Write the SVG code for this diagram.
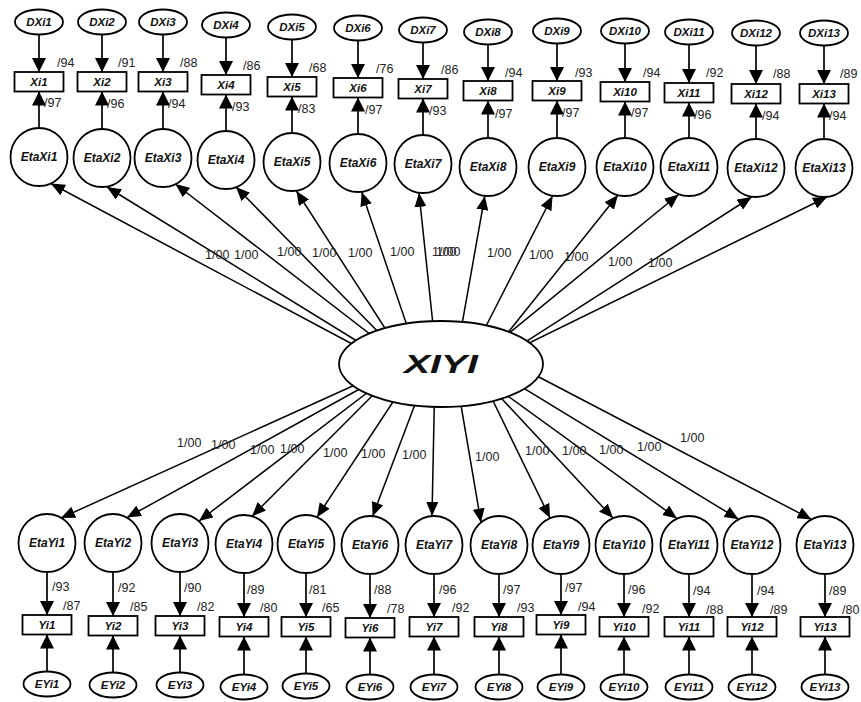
<svg xmlns="http://www.w3.org/2000/svg" width="861" height="702" viewBox="0 0 861 702">
  <defs>
    <marker id="arrow" markerUnits="userSpaceOnUse" markerWidth="14" markerHeight="12" refX="14" refY="6" orient="auto" viewBox="0 0 14 12">
      <path d="M0,0 L14,6 L0,12 z" fill="#000"/>
    </marker>
    <marker id="arrowV" markerUnits="userSpaceOnUse" markerWidth="14" markerHeight="14" refX="14" refY="7" orient="auto" viewBox="0 0 14 14">
      <path d="M0,0 L14,7 L0,14 z" fill="#000"/>
    </marker>
  </defs>
  <style>
    .n { fill: #fff; stroke: #000; stroke-width: 1.8; }
    .t { font-family: "Liberation Sans", Arial, sans-serif; font-style: italic; font-weight: bold; font-size: 11.5px; text-anchor: middle; fill: #111; }
    .te { font-size: 12px; }
    .big { font-size: 26px; }
    .c line { stroke: #000; stroke-width: 1.5; marker-end: url(#arrow); }
    .c line.v { stroke-width: 1.7; marker-end: url(#arrowV); }
    .w { font-family: "Liberation Sans", Arial, sans-serif; font-size: 12.5px; fill: #222; }
  </style>
  <rect width="861" height="702" fill="#fff"/>

  <!-- Exogenous indicators: error, observed Xi, latent EtaXi -->
  <g id="DXi1"><ellipse class="n" cx="39" cy="22" rx="24" ry="12.5"/><text class="t" x="39" y="26">DXi1</text></g>
  <g id="DXi2"><ellipse class="n" cx="102" cy="22" rx="24" ry="12.5"/><text class="t" x="102" y="26">DXi2</text></g>
  <g id="DXi3"><ellipse class="n" cx="163" cy="22" rx="24" ry="12.5"/><text class="t" x="163" y="26">DXi3</text></g>
  <g id="DXi4"><ellipse class="n" cx="226" cy="25" rx="24" ry="12.5"/><text class="t" x="226" y="29">DXi4</text></g>
  <g id="DXi5"><ellipse class="n" cx="292" cy="27" rx="24" ry="12.5"/><text class="t" x="292" y="31">DXi5</text></g>
  <g id="DXi6"><ellipse class="n" cx="358" cy="28" rx="24" ry="12.5"/><text class="t" x="358" y="32">DXi6</text></g>
  <g id="DXi7"><ellipse class="n" cx="423" cy="30" rx="24" ry="12.5"/><text class="t" x="423" y="34">DXi7</text></g>
  <g id="DXi8"><ellipse class="n" cx="488" cy="32" rx="24" ry="12.5"/><text class="t" x="488" y="36">DXi8</text></g>
  <g id="DXi9"><ellipse class="n" cx="557" cy="31" rx="24" ry="12.5"/><text class="t" x="557" y="35">DXi9</text></g>
  <g id="DXi10"><ellipse class="n" cx="625" cy="31" rx="24" ry="12.5"/><text class="t" x="625" y="35">DXi10</text></g>
  <g id="DXi11"><ellipse class="n" cx="689" cy="32" rx="24" ry="12.5"/><text class="t" x="689" y="36">DXi11</text></g>
  <g id="DXi12"><ellipse class="n" cx="756" cy="33" rx="24" ry="12.5"/><text class="t" x="756" y="37">DXi12</text></g>
  <g id="DXi13"><ellipse class="n" cx="824" cy="33" rx="24" ry="12.5"/><text class="t" x="824" y="37">DXi13</text></g>

  <g id="Xi1"><rect class="n" x="14.5" y="72" width="49" height="19.5"/><text class="t" x="39" y="85.5">Xi1</text></g>
  <g id="Xi2"><rect class="n" x="77.5" y="72" width="49" height="19.5"/><text class="t" x="102" y="85.5">Xi2</text></g>
  <g id="Xi3"><rect class="n" x="138.5" y="72" width="49" height="19.5"/><text class="t" x="163" y="85.5">Xi3</text></g>
  <g id="Xi4"><rect class="n" x="201.5" y="75" width="49" height="19.5"/><text class="t" x="226" y="88.5">Xi4</text></g>
  <g id="Xi5"><rect class="n" x="267.5" y="77" width="49" height="19.5"/><text class="t" x="292" y="90.5">Xi5</text></g>
  <g id="Xi6"><rect class="n" x="333.5" y="78" width="49" height="19.5"/><text class="t" x="358" y="91.5">Xi6</text></g>
  <g id="Xi7"><rect class="n" x="398.5" y="79" width="49" height="19.5"/><text class="t" x="423" y="92.5">Xi7</text></g>
  <g id="Xi8"><rect class="n" x="463.5" y="81" width="49" height="19.5"/><text class="t" x="488" y="94.5">Xi8</text></g>
  <g id="Xi9"><rect class="n" x="532.5" y="81" width="49" height="19.5"/><text class="t" x="557" y="94.5">Xi9</text></g>
  <g id="Xi10"><rect class="n" x="600.5" y="82" width="49" height="19.5"/><text class="t" x="625" y="95.5">Xi10</text></g>
  <g id="Xi11"><rect class="n" x="664.5" y="83" width="49" height="19.5"/><text class="t" x="689" y="96.5">Xi11</text></g>
  <g id="Xi12"><rect class="n" x="731.5" y="84" width="49" height="19.5"/><text class="t" x="756" y="97.5">Xi12</text></g>
  <g id="Xi13"><rect class="n" x="799.5" y="84" width="49" height="19.5"/><text class="t" x="824" y="97.5">Xi13</text></g>

  <g id="EtaXi1"><ellipse class="n" cx="39" cy="157" rx="28.5" ry="29"/><text class="t te" x="39" y="161">EtaXi1</text></g>
  <g id="EtaXi2"><ellipse class="n" cx="102" cy="158" rx="28.5" ry="29"/><text class="t te" x="102" y="162">EtaXi2</text></g>
  <g id="EtaXi3"><ellipse class="n" cx="163" cy="158" rx="28.5" ry="29"/><text class="t te" x="163" y="162">EtaXi3</text></g>
  <g id="EtaXi4"><ellipse class="n" cx="226" cy="160" rx="28.5" ry="29"/><text class="t te" x="226" y="164">EtaXi4</text></g>
  <g id="EtaXi5"><ellipse class="n" cx="292" cy="162" rx="28.5" ry="29"/><text class="t te" x="292" y="166">EtaXi5</text></g>
  <g id="EtaXi6"><ellipse class="n" cx="358" cy="163" rx="28.5" ry="29"/><text class="t te" x="358" y="167">EtaXi6</text></g>
  <g id="EtaXi7"><ellipse class="n" cx="423" cy="164" rx="28.5" ry="29"/><text class="t te" x="423" y="168">EtaXi7</text></g>
  <g id="EtaXi8"><ellipse class="n" cx="488" cy="167" rx="28.5" ry="29"/><text class="t te" x="488" y="171">EtaXi8</text></g>
  <g id="EtaXi9"><ellipse class="n" cx="557" cy="167" rx="28.5" ry="29"/><text class="t te" x="557" y="171">EtaXi9</text></g>
  <g id="EtaXi10"><ellipse class="n" cx="625" cy="167" rx="28.5" ry="29"/><text class="t te" x="625" y="171">EtaXi10</text></g>
  <g id="EtaXi11"><ellipse class="n" cx="689" cy="167" rx="28.5" ry="29"/><text class="t te" x="689" y="171">EtaXi11</text></g>
  <g id="EtaXi12"><ellipse class="n" cx="756" cy="168" rx="28.5" ry="29"/><text class="t te" x="756" y="172">EtaXi12</text></g>
  <g id="EtaXi13"><ellipse class="n" cx="824" cy="168" rx="28.5" ry="29"/><text class="t te" x="824" y="172">EtaXi13</text></g>

  <!-- Endogenous indicators: latent EtaYi, observed Yi, error EYi -->
  <g id="EtaYi1"><ellipse class="n" cx="47" cy="543" rx="28.5" ry="29"/><text class="t te" x="47" y="547">EtaYi1</text></g>
  <g id="EtaYi2"><ellipse class="n" cx="113" cy="543" rx="28.5" ry="29"/><text class="t te" x="113" y="547">EtaYi2</text></g>
  <g id="EtaYi3"><ellipse class="n" cx="180" cy="543" rx="28.5" ry="29"/><text class="t te" x="180" y="547">EtaYi3</text></g>
  <g id="EtaYi4"><ellipse class="n" cx="244" cy="544" rx="28.5" ry="29"/><text class="t te" x="244" y="548">EtaYi4</text></g>
  <g id="EtaYi5"><ellipse class="n" cx="306" cy="544" rx="28.5" ry="29"/><text class="t te" x="306" y="548">EtaYi5</text></g>
  <g id="EtaYi6"><ellipse class="n" cx="370" cy="545" rx="28.5" ry="29"/><text class="t te" x="370" y="549">EtaYi6</text></g>
  <g id="EtaYi7"><ellipse class="n" cx="434" cy="545" rx="28.5" ry="29"/><text class="t te" x="434" y="549">EtaYi7</text></g>
  <g id="EtaYi8"><ellipse class="n" cx="499" cy="545" rx="28.5" ry="29"/><text class="t te" x="499" y="549">EtaYi8</text></g>
  <g id="EtaYi9"><ellipse class="n" cx="561" cy="545" rx="28.5" ry="29"/><text class="t te" x="561" y="549">EtaYi9</text></g>
  <g id="EtaYi10"><ellipse class="n" cx="624" cy="545" rx="28.5" ry="29"/><text class="t te" x="624" y="549">EtaYi10</text></g>
  <g id="EtaYi11"><ellipse class="n" cx="689" cy="545" rx="28.5" ry="29"/><text class="t te" x="689" y="549">EtaYi11</text></g>
  <g id="EtaYi12"><ellipse class="n" cx="752" cy="545" rx="28.5" ry="29"/><text class="t te" x="752" y="549">EtaYi12</text></g>
  <g id="EtaYi13"><ellipse class="n" cx="825" cy="545" rx="28.5" ry="29"/><text class="t te" x="825" y="549">EtaYi13</text></g>

  <g id="Yi1"><rect class="n" x="22.5" y="615" width="49" height="19.5"/><text class="t" x="47" y="628.5">Yi1</text></g>
  <g id="Yi2"><rect class="n" x="88.5" y="616" width="49" height="19.5"/><text class="t" x="113" y="629.5">Yi2</text></g>
  <g id="Yi3"><rect class="n" x="155.5" y="616" width="49" height="19.5"/><text class="t" x="180" y="629.5">Yi3</text></g>
  <g id="Yi4"><rect class="n" x="219.5" y="617" width="49" height="19.5"/><text class="t" x="244" y="630.5">Yi4</text></g>
  <g id="Yi5"><rect class="n" x="281.5" y="617" width="49" height="19.5"/><text class="t" x="306" y="630.5">Yi5</text></g>
  <g id="Yi6"><rect class="n" x="345.5" y="618" width="49" height="19.5"/><text class="t" x="370" y="631.5">Yi6</text></g>
  <g id="Yi7"><rect class="n" x="409.5" y="617" width="49" height="19.5"/><text class="t" x="434" y="630.5">Yi7</text></g>
  <g id="Yi8"><rect class="n" x="474.5" y="617" width="49" height="19.5"/><text class="t" x="499" y="630.5">Yi8</text></g>
  <g id="Yi9"><rect class="n" x="536.5" y="615" width="49" height="19.5"/><text class="t" x="561" y="628.5">Yi9</text></g>
  <g id="Yi10"><rect class="n" x="599.5" y="617" width="49" height="19.5"/><text class="t" x="624" y="630.5">Yi10</text></g>
  <g id="Yi11"><rect class="n" x="664.5" y="617" width="49" height="19.5"/><text class="t" x="689" y="630.5">Yi11</text></g>
  <g id="Yi12"><rect class="n" x="727.5" y="617" width="49" height="19.5"/><text class="t" x="752" y="630.5">Yi12</text></g>
  <g id="Yi13"><rect class="n" x="800.5" y="617" width="49" height="19.5"/><text class="t" x="825" y="630.5">Yi13</text></g>

  <g id="EYi1"><ellipse class="n" cx="47" cy="684" rx="23.5" ry="12.5"/><text class="t" x="47" y="688">EYi1</text></g>
  <g id="EYi2"><ellipse class="n" cx="113" cy="685" rx="23.5" ry="12.5"/><text class="t" x="113" y="689">EYi2</text></g>
  <g id="EYi3"><ellipse class="n" cx="180" cy="685" rx="23.5" ry="12.5"/><text class="t" x="180" y="689">EYi3</text></g>
  <g id="EYi4"><ellipse class="n" cx="244" cy="687" rx="23.5" ry="12.5"/><text class="t" x="244" y="691">EYi4</text></g>
  <g id="EYi5"><ellipse class="n" cx="306" cy="686" rx="23.5" ry="12.5"/><text class="t" x="306" y="690">EYi5</text></g>
  <g id="EYi6"><ellipse class="n" cx="370" cy="687" rx="23.5" ry="12.5"/><text class="t" x="370" y="691">EYi6</text></g>
  <g id="EYi7"><ellipse class="n" cx="434" cy="687" rx="23.5" ry="12.5"/><text class="t" x="434" y="691">EYi7</text></g>
  <g id="EYi8"><ellipse class="n" cx="499" cy="687" rx="23.5" ry="12.5"/><text class="t" x="499" y="691">EYi8</text></g>
  <g id="EYi9"><ellipse class="n" cx="561" cy="687" rx="23.5" ry="12.5"/><text class="t" x="561" y="691">EYi9</text></g>
  <g id="EYi10"><ellipse class="n" cx="624" cy="687" rx="23.5" ry="12.5"/><text class="t" x="624" y="691">EYi10</text></g>
  <g id="EYi11"><ellipse class="n" cx="689" cy="687" rx="23.5" ry="12.5"/><text class="t" x="689" y="691">EYi11</text></g>
  <g id="EYi12"><ellipse class="n" cx="752" cy="687" rx="23.5" ry="12.5"/><text class="t" x="752" y="691">EYi12</text></g>
  <g id="EYi13"><ellipse class="n" cx="825" cy="687" rx="23.5" ry="12.5"/><text class="t" x="825" y="691">EYi13</text></g>

  <!-- Paths: starts inside XIYI are hidden by its filled ellipse drawn afterwards -->
  <g id="connectors" class="c">
    <!-- DXi -> Xi -->
    <line class="v" x1="39" y1="34.5" x2="39" y2="72"/>
    <line class="v" x1="102" y1="34.5" x2="102" y2="72"/>
    <line class="v" x1="163" y1="34.5" x2="163" y2="72"/>
    <line class="v" x1="226" y1="37.5" x2="226" y2="75"/>
    <line class="v" x1="292" y1="39.5" x2="292" y2="77"/>
    <line class="v" x1="358" y1="40.5" x2="358" y2="78"/>
    <line class="v" x1="423" y1="42.5" x2="423" y2="79"/>
    <line class="v" x1="488" y1="44.5" x2="488" y2="81"/>
    <line class="v" x1="557" y1="43.5" x2="557" y2="81"/>
    <line class="v" x1="625" y1="43.5" x2="625" y2="82"/>
    <line class="v" x1="689" y1="44.5" x2="689" y2="83"/>
    <line class="v" x1="756" y1="45.5" x2="756" y2="84"/>
    <line class="v" x1="824" y1="45.5" x2="824" y2="84"/>
    <!-- EtaXi -> Xi -->
    <line class="v" x1="39" y1="128" x2="39" y2="91.5"/>
    <line class="v" x1="102" y1="129" x2="102" y2="91.5"/>
    <line class="v" x1="163" y1="129" x2="163" y2="91.5"/>
    <line class="v" x1="226" y1="131" x2="226" y2="94.5"/>
    <line class="v" x1="292" y1="133" x2="292" y2="96.5"/>
    <line class="v" x1="358" y1="134" x2="358" y2="97.5"/>
    <line class="v" x1="423" y1="135" x2="423" y2="98.5"/>
    <line class="v" x1="488" y1="138" x2="488" y2="100.5"/>
    <line class="v" x1="557" y1="138" x2="557" y2="100.5"/>
    <line class="v" x1="625" y1="138" x2="625" y2="101.5"/>
    <line class="v" x1="689" y1="138" x2="689" y2="102.5"/>
    <line class="v" x1="756" y1="139" x2="756" y2="103.5"/>
    <line class="v" x1="824" y1="139" x2="824" y2="103.5"/>
    <!-- XIYI -> EtaXi -->
    <line x1="401" y1="370" x2="50.9" y2="183.5"/>
    <line x1="404" y1="370" x2="107" y2="187"/>
    <line x1="416.5" y1="370" x2="175.4" y2="184"/>
    <line x1="415.5" y1="370" x2="236" y2="187"/>
    <line x1="412" y1="370" x2="296.4" y2="191"/>
    <line x1="422" y1="370" x2="361.7" y2="192"/>
    <line x1="437.8" y1="370" x2="419" y2="193"/>
    <line x1="453.9" y1="370" x2="484.8" y2="196"/>
    <line x1="463.6" y1="370" x2="552.5" y2="196"/>
    <line x1="478" y1="370" x2="618" y2="195"/>
    <line x1="464.1" y1="370" x2="678.6" y2="194.5"/>
    <line x1="481.7" y1="370" x2="751.6" y2="197"/>
    <line x1="474.1" y1="370" x2="827" y2="197"/>
    <!-- XIYI -> EtaYi -->
    <line x1="388" y1="370" x2="61" y2="518"/>
    <line x1="394" y1="370" x2="127" y2="517.6"/>
    <line x1="397" y1="370" x2="199" y2="521"/>
    <line x1="398" y1="370" x2="252" y2="516.2"/>
    <line x1="414" y1="370" x2="317" y2="517.2"/>
    <line x1="428" y1="370" x2="372.6" y2="516.2"/>
    <line x1="435" y1="370" x2="432" y2="516"/>
    <line x1="455" y1="370" x2="481" y2="522.5"/>
    <line x1="478" y1="370" x2="550" y2="518"/>
    <line x1="475" y1="370" x2="613" y2="518"/>
    <line x1="472" y1="370" x2="677" y2="518.5"/>
    <line x1="494" y1="370" x2="738.5" y2="519.2"/>
    <line x1="525.5" y1="370" x2="811.5" y2="519.4"/>
    <!-- EtaYi -> Yi -->
    <line class="v" x1="47" y1="572" x2="47" y2="615"/>
    <line class="v" x1="113" y1="572" x2="113" y2="616"/>
    <line class="v" x1="180" y1="572" x2="180" y2="616"/>
    <line class="v" x1="244" y1="573" x2="244" y2="617"/>
    <line class="v" x1="306" y1="573" x2="306" y2="617"/>
    <line class="v" x1="370" y1="574" x2="370" y2="618"/>
    <line class="v" x1="434" y1="574" x2="434" y2="617"/>
    <line class="v" x1="499" y1="574" x2="499" y2="617"/>
    <line class="v" x1="561" y1="574" x2="561" y2="615"/>
    <line class="v" x1="624" y1="574" x2="624" y2="617"/>
    <line class="v" x1="689" y1="574" x2="689" y2="617"/>
    <line class="v" x1="752" y1="574" x2="752" y2="617"/>
    <line class="v" x1="825" y1="574" x2="825" y2="617"/>
    <!-- EYi -> Yi -->
    <line class="v" x1="47" y1="671.5" x2="47" y2="634.5"/>
    <line class="v" x1="113" y1="672.5" x2="113" y2="635.5"/>
    <line class="v" x1="180" y1="672.5" x2="180" y2="635.5"/>
    <line class="v" x1="244" y1="674.5" x2="244" y2="636.5"/>
    <line class="v" x1="306" y1="673.5" x2="306" y2="636.5"/>
    <line class="v" x1="370" y1="674.5" x2="370" y2="637.5"/>
    <line class="v" x1="434" y1="674.5" x2="434" y2="636.5"/>
    <line class="v" x1="499" y1="674.5" x2="499" y2="636.5"/>
    <line class="v" x1="561" y1="674.5" x2="561" y2="634.5"/>
    <line class="v" x1="624" y1="674.5" x2="624" y2="636.5"/>
    <line class="v" x1="689" y1="674.5" x2="689" y2="636.5"/>
    <line class="v" x1="752" y1="674.5" x2="752" y2="636.5"/>
    <line class="v" x1="825" y1="674.5" x2="825" y2="636.5"/>
  </g>

  <g id="XIYI"><ellipse class="n" cx="441" cy="364" rx="102" ry="43"/><text class="t big" x="441" y="373" textLength="74" lengthAdjust="spacingAndGlyphs">XIYI</text></g>

  <!-- Estimates -->
  <g id="weights" class="w">
    <text x="57" y="67">/94</text><text x="44" y="107">/97</text>
    <text x="118" y="67">/91</text><text x="107" y="108">/96</text>
    <text x="180" y="67">/88</text><text x="168" y="108">/94</text>
    <text x="243" y="70">/86</text><text x="232" y="111">/93</text>
    <text x="309" y="72">/68</text><text x="298" y="113">/83</text>
    <text x="376" y="73">/76</text><text x="365" y="114">/97</text>
    <text x="441" y="74">/86</text><text x="429" y="115">/93</text>
    <text x="505" y="77">/94</text><text x="495" y="118">/97</text>
    <text x="575" y="77">/93</text><text x="562" y="117">/97</text>
    <text x="643" y="77">/94</text><text x="631" y="117">/97</text>
    <text x="706" y="77">/92</text><text x="694" y="119">/96</text>
    <text x="773" y="78">/88</text><text x="762" y="120">/94</text>
    <text x="840" y="78">/89</text><text x="829" y="120">/94</text>

    <text x="205" y="259">1/00</text><text x="234" y="259">1/00</text>
    <text x="277" y="256">1/00</text><text x="312" y="257">1/00</text>
    <text x="348" y="257">1/00</text><text x="390" y="256">1/00</text>
    <text x="432" y="256">1/00</text><text x="436" y="256">1/00</text>
    <text x="487" y="257">1/00</text><text x="529" y="259">1/00</text>
    <text x="564" y="261">1/00</text><text x="608" y="266">1/00</text>
    <text x="648" y="267">1/00</text>

    <text x="177" y="447">1/00</text><text x="211" y="449">1/00</text>
    <text x="250" y="454">1/00</text><text x="280" y="453">1/00</text>
    <text x="323" y="457">1/00</text><text x="361" y="458">1/00</text>
    <text x="402" y="459">1/00</text><text x="475" y="461">1/00</text>
    <text x="525" y="455">1/00</text><text x="562" y="455">1/00</text>
    <text x="599" y="454">1/00</text><text x="637" y="451">1/00</text>
    <text x="680" y="442">1/00</text>

    <text x="52" y="591">/93</text><text x="63" y="610">/87</text>
    <text x="118" y="592">/92</text><text x="130" y="611">/85</text>
    <text x="184" y="592">/90</text><text x="197" y="611">/82</text>
    <text x="247" y="594">/89</text><text x="260" y="612">/80</text>
    <text x="309" y="594">/81</text><text x="322" y="612">/65</text>
    <text x="374" y="594">/88</text><text x="387" y="613">/78</text>
    <text x="439" y="594">/96</text><text x="452" y="612">/92</text>
    <text x="503" y="594">/97</text><text x="517" y="612">/93</text>
    <text x="565" y="592">/97</text><text x="578" y="611">/94</text>
    <text x="628" y="594">/96</text><text x="642" y="613">/92</text>
    <text x="693" y="595">/94</text><text x="706" y="614">/88</text>
    <text x="757" y="595">/94</text><text x="770" y="614">/89</text>
    <text x="829" y="595">/89</text><text x="842" y="614">/80</text>
  </g>
</svg>
